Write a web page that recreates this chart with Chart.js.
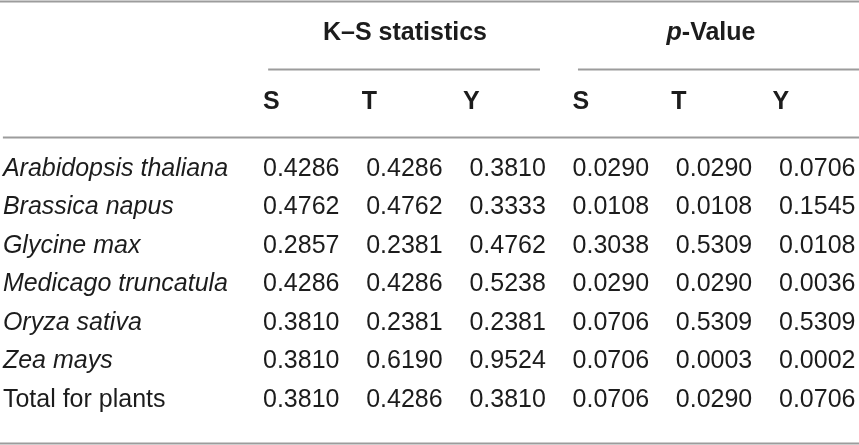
<!DOCTYPE html>
<html>
<head>
<meta charset="utf-8">
<script src="https://cdn.jsdelivr.net/npm/chart.js@4/dist/chart.umd.min.js"></script>
<style>
  html, body { margin: 0; padding: 0; background: #fff; }
  #wrap { width: 859px; height: 445px; }
</style>
</head>
<body>
<div id="wrap"><canvas id="tabela" width="859" height="445"></canvas></div>
<script>
// linhas da tabela
const species = ['Arabidopsis thaliana', 'Brassica napus', 'Glycine max',
  'Medicago truncatula', 'Oryza sativa', 'Zea mays', 'Total for plants'];
const groupHeaders = ['K\u2013S statistics', 'p-Value'];
const subHeaders = ['S', 'T', 'Y'];

// K-S statistics
const ksS = [0.4286, 0.4762, 0.2857, 0.4286, 0.3810, 0.3810, 0.3810];
const ksT = [0.4286, 0.4762, 0.2381, 0.4286, 0.2381, 0.6190, 0.4286];
const ksY = [0.3810, 0.3333, 0.4762, 0.5238, 0.2381, 0.9524, 0.3810];
// p-values
const pS = [0.0290, 0.0108, 0.3038, 0.0290, 0.0706, 0.0706, 0.0706];
const pT = [0.0290, 0.0108, 0.5309, 0.0290, 0.5309, 0.0003, 0.0290];
const pY = [0.0706, 0.1545, 0.0108, 0.0036, 0.5309, 0.0002, 0.0706];

const columns = [ksS, ksT, ksY, pS, pT, pY];

const INK = '#1c1c1c';
const RULE = '#9c9c9c';
const FONT = '"Liberation Sans", Arial, Helvetica, sans-serif';

const tablePlugin = {
  id: 'tablePlugin',
  afterDatasetsDraw(chart) {
    const ctx = chart.ctx;
    const xs = chart.scales.x, ys = chart.scales.y;
    const px = v => xs.getPixelForValue(v);
    const py = v => ys.getPixelForValue(v);

    ctx.save();
    // linhas horizontais
    ctx.strokeStyle = RULE;
    ctx.lineWidth = 2;
    const hline = (x1, x2, y) => {
      ctx.beginPath();
      ctx.moveTo(px(x1), Math.round(py(y)) + 0.5);
      ctx.lineTo(px(x2), Math.round(py(y)) + 0.5);
      ctx.stroke();
    };
    hline(xs.min, xs.max, -4.37);
    hline(0.05, 2.684, -2.6);
    hline(3.052, xs.max, -2.6);
    hline(-2.52, xs.max, -0.83);
    hline(xs.min, xs.max, 7.12);

    ctx.fillStyle = INK;
    ctx.textBaseline = 'middle';

    // cabeçalhos de grupo
    ctx.font = 'bold 25px ' + FONT;
    ctx.textAlign = 'center';
    ctx.fillText(groupHeaders[0], px(1.376), py(-3.53));
    const pPart = groupHeaders[1].slice(0, 1), rest = groupHeaders[1].slice(1);
    ctx.font = 'italic bold 25px ' + FONT;
    const w1 = ctx.measureText(pPart).width;
    ctx.font = 'bold 25px ' + FONT;
    const w2 = ctx.measureText(rest).width;
    const startX = px(4.341) - (w1 + w2) / 2;
    ctx.textAlign = 'left';
    ctx.font = 'italic bold 25px ' + FONT;
    ctx.fillText(pPart, startX, py(-3.53));
    ctx.font = 'bold 25px ' + FONT;
    ctx.fillText(rest, startX + w1, py(-3.53));

    // S T Y
    const nudge = [0, -4.5, -6.5];
    columns.forEach((c, i) => {
      ctx.fillText(subHeaders[i % 3], px(i) + nudge[i % 3], py(-1.74));
    });

    // nomes das linhas
    species.forEach((name, r) => {
      ctx.font = (r < species.length - 1 ? 'italic ' : '') + '25px ' + FONT;
      ctx.fillText(name, px(-2.52), py(r));
    });

    // valores das células, posicionados pelos pontos
    ctx.font = '25px ' + FONT;
    chart.data.datasets.forEach((ds, di) => {
      const meta = chart.getDatasetMeta(di);
      meta.data.forEach((pt, j) => {
        ctx.fillText(ds.values[j].toFixed(4), pt.x, pt.y);
      });
    });
    ctx.restore();
  }
};

new Chart(document.getElementById('tabela').getContext('2d'), {
  type: 'scatter',
  data: {
    datasets: columns.map((col, i) => ({
      label: subHeaders[i % 3],
      values: col,
      data: col.map((v, r) => ({ x: i, y: r })),
      pointRadius: 0,
      pointHoverRadius: 0
    }))
  },
  options: {
    responsive: false,
    animation: false,
    layout: { padding: 0 },
    plugins: { legend: { display: false }, tooltip: { enabled: false } },
    scales: {
      x: { type: 'linear', display: false, min: -2.548, max: 5.775 },
      y: { type: 'linear', display: false, reverse: true, min: -4.39, max: 7.169 }
    }
  },
  plugins: [tablePlugin]
});
</script>
</body>
</html>
